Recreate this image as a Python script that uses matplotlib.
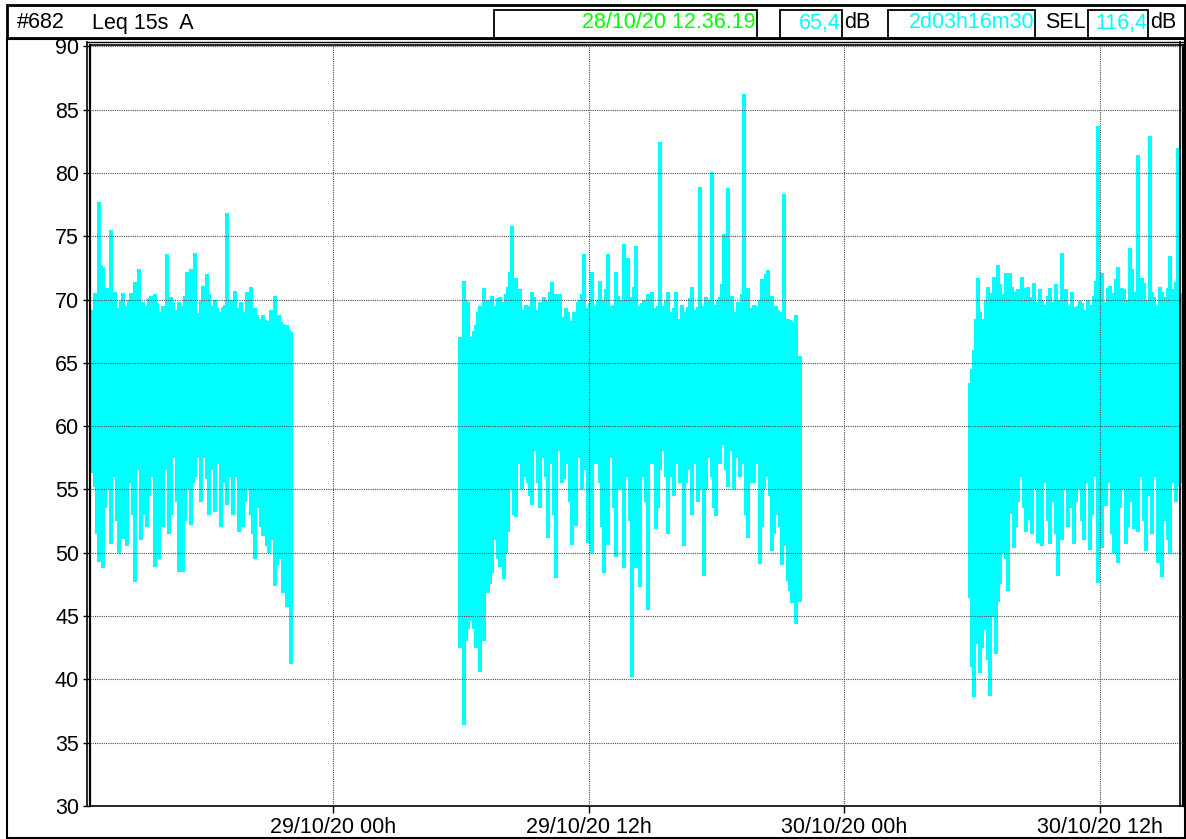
import numpy as np
import matplotlib.pyplot as plt
from matplotlib.patches import Rectangle
from matplotlib.lines import Line2D

plt.rcParams['font.family'] = ['Liberation Sans', 'DejaVu Sans']

W, H = 1186, 839
CYAN = '#00ffff'
GREEN = '#00ff00'
FS = 15.5

# time in hours since 28/10/20 00h
t_start = 12 + 36/60 + 19/3600          # 28/10/20 12.36.19
t_end = t_start + 51 + 16/60 + 30/3600  # 2d03h16m30
step = 0.1875                           # hours between plotted samples

tick_pos = [24, 36, 48, 60]
tick_txt = ['29/10/20 00h', '29/10/20 12h', '30/10/20 00h', '30/10/20 12h']
y_ticks = list(range(30, 95, 5))

# segment 1 (28/10 afternoon/evening)
seg1_t0 = 12.656
seg1_hi = [68.5, 70.5, 77.7, 72.6, 70.9, 75.5, 70.6, 69.3, 70.5, 69.5,
           70.5, 71.4, 72.4, 69.8, 69.5, 70.3, 70.4, 69.0, 69.5, 73.6,
           70.2, 69.2, 69.8, 69.5, 72.2, 72.4, 73.7, 68.8, 71.1, 72.0,
           69.5, 70.0, 69.0, 69.4, 76.8, 70.0, 70.7, 69.3, 69.0, 70.6,
           71.0, 69.3, 68.5, 68.8, 68.3, 69.2, 70.3, 68.8, 68.1, 68.0, 67.4]
seg1_lo = [56.3, 55.2, 49.3, 48.8, 55.0, 50.7, 57.5, 50.0, 51.1, 50.5,
           55.5, 47.7, 57.0, 53.0, 52.0, 56.0, 48.9, 49.5, 52.0, 56.5,
           53.0, 58.0, 48.5, 48.5, 55.0, 52.2, 56.0, 57.5, 57.5, 55.8,
           58.5, 53.2, 57.0, 56.5, 53.8, 56.0, 57.5, 51.6, 52.0, 55.0,
           53.0, 49.5, 53.5, 51.3, 50.5, 51.0, 47.4, 49.5, 46.8, 45.7, 41.2]
# in-between samples (half a step later)
seg1_mid_hi = [69.2, 69.8, 72.7, 70.2, 68.8, 69.5, 68.6, 69.9, 68.4, 70.0,
               69.0, 68.7, 69.6, 68.5, 70.1, 68.9, 69.7, 68.3, 69.2, 68.8,
               69.8, 68.5, 69.4, 70.3, 68.7, 69.5, 68.9, 69.9, 68.6, 70.4,
               68.8, 69.3, 68.4, 69.6, 68.9, 69.2, 68.5, 69.8, 68.6, 69.0,
               68.3, 68.8, 67.9, 68.4, 67.8, 68.6, 67.9, 68.2, 67.5, 67.6]
seg1_mid_lo = [58.5, 51.5, 57.0, 53.5, 58.0, 56.0, 52.5, 58.5, 55.0, 57.5,
               53.0, 56.5, 51.0, 58.0, 54.5, 57.0, 52.0, 56.0, 58.5, 51.5,
               57.5, 54.0, 58.0, 52.5, 57.0, 55.5, 58.5, 54.0, 57.5, 53.0,
               56.5, 58.0, 52.0, 55.5, 57.5, 53.0, 56.0, 58.5, 54.0, 56.5,
               51.5, 55.0, 52.0, 54.5, 50.0, 53.0, 49.0, 51.5, 48.0, 47.0]
seg1_core_t = [12.66, 14.48, 16.36, 18.23, 19.64, 20.81, 21.52, 22.03]
seg1_core_lo = [60.5, 60.5, 60.0, 60.5, 59.0, 56.0, 52.5, 50.0]
seg1_core_hi = [67.0, 67.2, 67.2, 67.2, 67.0, 66.8, 66.5, 65.5]

# segment 2 (29/10 day)
seg2_t0 = 29.953
seg2_hi = [67.0, 71.5, 69.8, 67.0, 68.0, 69.5, 70.9, 70.0, 70.3, 69.4,
           70.2, 69.8, 71.0, 75.8, 71.7, 70.8, 69.2, 69.5, 70.6, 69.2,
           69.8, 70.2, 69.5, 71.4, 70.4, 70.4, 68.6, 69.0, 68.3, 68.7,
           70.0, 73.6, 69.3, 72.2, 69.5, 71.5, 70.0, 73.6, 69.5, 72.2,
           70.0, 74.4, 73.3, 70.2, 74.2, 69.5, 70.0, 70.4, 70.6, 69.3,
           82.4, 69.5, 70.6, 69.0, 70.6, 68.5, 69.0, 69.4, 71.0, 69.2,
           78.9, 69.5, 70.0, 80.1, 69.6, 70.2, 75.2, 78.8, 70.3, 69.0,
           69.8, 86.2, 70.9, 69.3, 69.5, 70.0, 70.0, 72.3, 70.3, 69.5,
           69.0, 78.3, 68.5, 68.2, 68.8, 65.5]
seg2_lo = [42.5, 36.4, 44.0, 45.0, 42.5, 40.6, 43.0, 46.8, 48.4, 52.0,
           48.9, 47.9, 51.6, 55.0, 52.8, 57.0, 56.0, 55.5, 53.8, 58.0,
           53.5, 57.5, 51.2, 57.0, 48.0, 58.0, 55.8, 57.0, 50.6, 52.1,
           57.5, 56.5, 50.8, 50.0, 57.0, 55.5, 48.4, 50.6, 57.5, 49.7,
           55.0, 48.8, 56.0, 40.2, 48.8, 47.3, 56.0, 45.5, 57.0, 51.9,
           56.5, 58.0, 51.5, 56.0, 57.0, 55.5, 50.5, 56.5, 53.0, 57.0,
           55.0, 48.2, 57.5, 56.0, 52.9, 57.0, 58.5, 55.2, 59.0, 57.5,
           56.0, 58.0, 51.2, 55.5, 57.0, 49.1, 55.0, 56.0, 50.1, 55.5,
           52.0, 50.5, 47.8, 46.0, 44.4, 46.1]
seg2_mid_hi = [65.0, 70.0, 66.5, 67.5, 69.0, 68.5, 69.8, 68.7, 69.5, 70.1,
               68.9, 70.4, 72.2, 69.3, 70.0, 68.8, 69.6, 68.5, 70.2, 69.0,
               68.7, 69.9, 70.6, 68.9, 69.5, 68.4, 69.3, 68.1, 69.0, 69.8,
               70.4, 68.8, 69.7, 68.9, 70.0, 69.2, 70.8, 68.9, 69.6, 70.3,
               69.0, 70.5, 69.4, 71.0, 68.8, 69.7, 69.1, 70.2, 68.7, 69.5,
               68.8, 69.9, 68.6, 69.3, 68.4, 69.6, 68.8, 70.1, 68.7, 69.4,
               68.9, 70.2, 69.3, 68.8, 70.0, 71.2, 69.0, 69.5, 68.7, 69.8,
               70.4, 69.2, 68.8, 69.6, 68.9, 71.6, 72.0, 69.4, 68.6, 69.2,
               68.0, 67.5, 68.4, 67.0, 65.0]
seg2_mid_lo = [46.0, 43.0, 47.0, 44.0, 46.5, 45.0, 49.0, 47.5, 51.0, 49.5,
               53.0, 50.0, 56.5, 53.0, 58.5, 55.0, 57.5, 54.5, 59.0, 55.5,
               58.0, 56.0, 59.0, 53.0, 58.5, 55.5, 59.0, 54.0, 57.5, 59.0,
               55.0, 58.5, 53.5, 57.0, 59.0, 52.0, 56.5, 58.0, 53.5, 57.5,
               55.0, 58.5, 52.5, 57.0, 55.0, 58.5, 54.0, 57.5, 59.0, 53.5,
               58.0, 56.0, 59.0, 54.5, 57.5, 58.5, 55.5, 57.0, 59.0, 54.0,
               57.5, 55.0, 58.5, 53.5, 58.0, 59.0, 56.5, 58.0, 55.0, 58.5,
               57.0, 53.0, 57.5, 55.5, 58.0, 52.0, 56.5, 54.5, 51.5, 53.0,
               49.0, 50.5, 47.0, 48.0, 50.0]
seg2_core_t = [29.95, 30.66, 31.03, 31.59, 32.16, 32.77, 34.64, 37.45,
               41.20, 44.02, 44.72, 45.42, 45.89]
seg2_core_lo = [44, 45, 48, 52, 56, 59.5, 60.5, 60.5, 60.5, 59.5, 56, 52, 50]
seg2_core_hi = [63, 66.5, 67, 67.5, 67.5, 67.5, 67.5, 67.5, 67.5, 67.5,
                67.2, 67, 65]

# segment 3 (30/10 day)
seg3_t0 = 53.906
seg3_hi = [63.4, 66.0, 71.7, 67.0, 70.0, 69.3, 71.8, 72.7, 68.2, 72.1,
           72.1, 70.6, 70.8, 71.8, 70.9, 69.5, 71.3, 69.8, 70.0, 69.5,
           70.9, 69.6, 70.0, 73.7, 70.8, 69.3, 68.8, 69.5, 69.7, 68.8,
           68.4, 70.3, 83.7, 72.1, 69.4, 71.1, 70.5, 72.6, 70.9, 70.0,
           74.1, 70.5, 81.4, 71.7, 70.0, 82.9, 70.2, 69.5, 70.6, 69.8,
           73.4, 70.8, 82.0, 68.5]
seg3_lo = [46.4, 38.6, 42.8, 42.5, 43.9, 38.7, 44.9, 46.1, 50.0, 49.5,
           53.1, 50.4, 54.0, 56.0, 51.6, 52.6, 55.0, 50.8, 50.5, 55.5,
           50.7, 54.0, 48.2, 51.0, 55.0, 53.5, 50.7, 55.0, 52.5, 55.5,
           50.2, 56.0, 47.6, 50.4, 53.7, 55.5, 50.0, 49.2, 55.0, 50.7,
           54.0, 51.9, 51.6, 56.0, 50.1, 54.5, 57.0, 49.2, 48.1, 52.5,
           50.0, 57.0, 55.3, 55.5]
seg3_mid_hi = [64.5, 68.5, 69.0, 68.5, 71.0, 70.5, 69.8, 71.2, 70.4, 69.6,
               71.0, 69.8, 70.5, 69.7, 71.0, 70.2, 69.5, 70.8, 69.6, 70.3,
               69.8, 71.2, 69.7, 70.1, 69.5, 70.6, 69.4, 69.9, 69.2, 70.0,
               69.6, 71.5, 70.4, 69.8, 70.9, 69.7, 71.6, 70.2, 70.8, 69.9,
               72.4, 70.6, 70.0, 71.3, 69.8, 70.6, 69.5, 71.0, 70.2, 70.9,
               69.8, 71.4, 70.5]
seg3_mid_lo = [41.0, 45.0, 40.5, 44.5, 41.5, 45.0, 42.0, 47.5, 52.0, 47.0,
               55.5, 52.0, 57.5, 53.5, 56.5, 51.5, 57.0, 53.0, 56.0, 52.5,
               57.5, 51.5, 55.5, 57.0, 52.0, 56.5, 54.0, 57.5, 51.0, 56.0,
               53.0, 57.0, 52.5, 55.0, 57.5, 51.5, 56.5, 53.5, 57.0, 52.0,
               56.0, 54.5, 57.5, 52.5, 55.5, 51.5, 56.0, 53.5, 57.5, 51.0,
               55.5, 54.0, 57.0]
seg3_core_t = [53.91, 54.14, 54.56, 55.17, 55.36, 55.73, 56.20, 59.95, 63.84]
seg3_core_lo = [46, 45, 45.5, 46, 51, 57, 60, 60.5, 60.5]
seg3_core_hi = [63, 66, 67.5, 67.5, 67.5, 67.5, 67.8, 67.8, 67.8]

segments = [
    (seg1_t0, seg1_hi, seg1_lo, seg1_mid_hi, seg1_mid_lo, seg1_core_t, seg1_core_lo, seg1_core_hi),
    (seg2_t0, seg2_hi, seg2_lo, seg2_mid_hi, seg2_mid_lo, seg2_core_t, seg2_core_lo, seg2_core_hi),
    (seg3_t0, seg3_hi, seg3_lo, seg3_mid_hi, seg3_mid_lo, seg3_core_t, seg3_core_lo, seg3_core_hi),
]

fig = plt.figure(figsize=(W / 100, H / 100), dpi=100)
ax = fig.add_axes([90 / W, 1 - 806 / H, (1183 - 90) / W, (806 - 45) / H])

for t0, hi, lo, mhi, mlo, ct, clo, chi in segments:
    t = t0 + step * np.arange(len(hi))
    tm = t0 + step / 2 + step * np.arange(len(mhi))
    ax.fill_between(ct, clo, chi, color=CYAN, lw=0, zorder=1, antialiased=False)
    ax.vlines(tm, mlo, mhi, color=CYAN, lw=1.5, zorder=1, antialiased=False)
    ax.vlines(t, lo, hi, color=CYAN, lw=1.5, zorder=1, antialiased=False)

ax.set_xlim(t_start, t_end)
ax.set_ylim(30, 90.1)
ax.set_yticks(y_ticks)
ax.set_yticklabels([str(v) for v in y_ticks], fontsize=FS)
ax.set_xticks(tick_pos)
ax.set_xticklabels(tick_txt, fontsize=FS)
ax.tick_params(axis='both', direction='out', length=5, width=1, pad=3, colors='black')
ax.set_axisbelow(False)
ax.grid(True, color='0.3', linestyle=(0, (1, 1)), lw=0.8)
for side in ['left', 'right']:
    ax.spines[side].set_linewidth(1.6)
for side in ['top', 'bottom']:
    ax.spines[side].set_linewidth(1.2)


def fx(x):
    return x / W


def fy(y):
    return 1 - y / H


def box(x0, y0, x1, y1, lw=1.3):
    fig.add_artist(Rectangle((fx(x0), fy(y1)), fx(x1) - fx(x0), fy(y0) - fy(y1),
                             transform=fig.transFigure, fill=False, ec='black', lw=lw))


def vline(x, y0, y1, lw=1.2):
    fig.add_artist(Line2D([fx(x), fx(x)], [fy(y0), fy(y1)], transform=fig.transFigure,
                          color='black', lw=lw))


def hline(y, x0, x1, lw=1.0):
    fig.add_artist(Line2D([fx(x0), fx(x1)], [fy(y), fy(y)], transform=fig.transFigure,
                          color='black', lw=lw))


# extra frame lines (double borders)
vline(87, 42, 806)
vline(1180, 42, 806)
hline(42, 87, 1183)

# outer frames
box(7, 5, 1185, 38, lw=2)
box(7, 39, 1185, 838, lw=1.5)

# header
ty = 23
fig.text(fx(17), fy(ty), '#682', fontsize=FS, va='center', ha='left')
fig.text(fx(92), fy(ty), 'Leq 15s  A', fontsize=FS, va='center', ha='left')
box(494, 10, 757, 38)
fig.text(fx(756), fy(ty), '28/10/20 12.36.19', fontsize=FS, va='center', ha='right', color=GREEN)
box(780, 10, 842, 38)
fig.text(fx(841), fy(ty), '65,4', fontsize=FS, va='center', ha='right', color=CYAN)
fig.text(fx(844), fy(ty), 'dB', fontsize=FS, va='center', ha='left')
box(888, 10, 1035, 38)
fig.text(fx(1034), fy(ty), '2d03h16m30', fontsize=FS, va='center', ha='right', color=CYAN)
fig.text(fx(1045), fy(ty), 'SEL', fontsize=FS, va='center', ha='left')
box(1088, 10, 1148, 38)
fig.text(fx(1147), fy(ty), '116,4', fontsize=FS, va='center', ha='right', color=CYAN)
fig.text(fx(1150), fy(ty), 'dB', fontsize=FS, va='center', ha='left')

fig.savefig('out.png', dpi=100)
